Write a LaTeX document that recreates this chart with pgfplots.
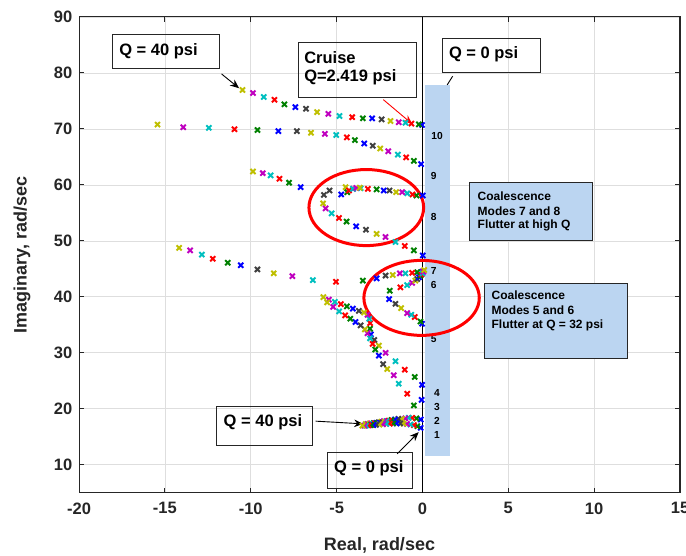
\documentclass[border=0pt]{standalone}
\usepackage{pgfplots}
\pgfplotsset{compat=1.18}
\usepackage{fontspec}
\setmainfont{Liberation Sans}
\usetikzlibrary{arrows.meta}
\definecolor{mb}{rgb}{0,0,1}
\definecolor{mg}{rgb}{0,0.5,0}
\definecolor{mr}{rgb}{1,0,0}
\definecolor{mc}{rgb}{0,0.75,0.75}
\definecolor{mm}{rgb}{0.75,0,0.75}
\definecolor{my}{rgb}{0.75,0.75,0}
\definecolor{mk}{rgb}{0.25,0.25,0.25}
\definecolor{axc}{rgb}{0.15,0.15,0.15}
\definecolor{annblue}{RGB}{187,213,241}
\begin{document}
\begin{tikzpicture}
\begin{axis}[name=ax, scale only axis, width=400.7pt, height=317.3pt,
  xmin=-20, xmax=15, ymin=5, ymax=90,
  xtick={-20,-15,-10,-5,0,5,10,15}, ytick={10,20,30,40,50,60,70,80,90},
  grid=major, major grid style={draw=black!13, line width=0.5pt},
  tick align=inside, major tick length=3.5pt,
  axis line style={draw=axc, line width=0.7pt},
  every tick/.style={draw=axc, line width=0.7pt},
  tick label style={font=\fontsize{11}{13}\selectfont\bfseries, text=axc},
  xticklabel style={yshift=-3pt},
  yticklabel style={xshift=-1pt},
  /pgf/number format/assume math mode=true,
  xlabel={Real, rad/sec}, ylabel={Imaginary, rad/sec},
  label style={font=\fontsize{12}{14}\selectfont\bfseries, text=axc},
  xlabel style={at={(axis description cs:0.5,-0.11)}, anchor=center},
  ylabel style={at={(axis description cs:-0.0948,0.5)}, anchor=center},
  clip=false,
  scatter/classes={
    b={mark=x,color=mb}, g={mark=x,color=mg}, r={mark=x,color=mr},
    c={mark=x,color=mc}, m={mark=x,color=mm}, y={mark=x,color=my},
    k={mark=x,color=mk}}
]
\addplot[black, line width=0.5pt] coordinates {(0,5) (0,90)};
\addplot[scatter, only marks, scatter src=explicit symbolic, mark size=2.4pt, mark options={line width=1.3pt}] coordinates {
% mode 10
(-0.02,70.7)[b] (-0.21,70.8)[g] (-0.64,70.95)[r] (-0.99,71.1)[c] (-1.38,71.2)[m] (-1.86,71.4)[y] (-2.38,71.7)[k] (-2.93,71.9)[b] (-3.47,71.9)[g] (-4.09,72.1)[r] (-4.83,72.3)[c] (-5.48,72.7)[m] (-6.14,73.0)[y] (-6.78,73.6)[k] (-7.40,73.9)[b] (-8.04,74.4)[g] (-8.62,75.2)[r] (-9.24,75.7)[c] (-9.87,76.4)[m] (-10.48,76.96)[y]
% mode 9
(-0.08,63.7)[b] (-0.50,64.3)[g] (-0.95,64.9)[r] (-1.43,65.4)[c] (-1.99,66.0)[m] (-2.46,66.5)[y] (-2.89,67.0)[k] (-3.39,67.4)[b] (-3.93,68.0)[g] (-4.40,68.5)[r] (-5.02,68.9)[c] (-5.68,69.1)[m] (-6.49,69.3)[y] (-7.31,69.6)[k] (-8.39,69.6)[b] (-9.61,69.8)[g] (-10.95,69.94)[r] (-12.44,70.2)[c] (-13.93,70.3)[m] (-15.43,70.77)[y]
% mode 8
(0.02,58.1)[b] (-0.35,58.1)[g] (-0.58,58.3)[r] (-0.89,58.5)[c] (-1.18,58.7)[m] (-1.53,58.7)[y] (-1.92,59.0)[k] (-2.25,59.0)[b] (-2.67,59.2)[g] (-3.18,59.3)[r] (-3.60,59.4)[c] (-4.03,59.3)[m] (-4.48,59.6)[y] (-5.41,59.0)[k] (-4.73,58.3)[b] (-4.38,58.7)[g] (-4.28,59.0)[r] (-4.05,59.3)[c] (-3.85,59.45)[m] (-3.65,59.5)[y]
% mode 7
(0.02,47.4)[b] (-0.50,48.3)[g] (-1.03,49.1)[r] (-1.57,49.8)[c] (-2.15,50.7)[m] (-2.67,51.25)[y] (-3.29,52.0)[k] (-3.86,52.6)[b] (-4.42,53.45)[g] (-4.86,54.1)[r] (-5.29,54.9)[c] (-5.64,55.8)[m] (-5.79,56.7)[y] (-5.74,58.2)[k] (-7.09,59.6)[b] (-7.77,60.4)[g] (-8.33,61.1)[r] (-8.84,61.7)[c] (-9.30,62.1)[m] (-9.87,62.4)[y]
% mode 6
(-0.02,44.5)[b] (-0.31,44.4)[g] (-0.60,44.3)[r] (-0.99,44.2)[c] (-1.32,44.2)[m] (-1.73,43.9)[y] (-2.15,43.8)[k] (-2.67,43.3)[b] (-3.47,42.9)[g] (-5.04,42.7)[r] (-6.38,43.0)[c] (-7.58,43.7)[m] (-8.66,44.2)[y] (-9.61,44.9)[k] (-10.58,45.65)[b] (-11.34,46.1)[g] (-12.21,46.8)[r] (-12.85,47.55)[c] (-13.53,48.3)[m] (-14.17,48.75)[y]
% mode 5
(-0.02,35.2)[b] (-0.12,35.6)[g] (-0.45,36.4)[r] (-0.65,36.8)[c] (-0.89,37.1)[m] (-1.24,38.0)[y] (-1.57,38.75)[k] (-1.94,39.6)[b] (-1.9,41.1)[g] (-1.28,41.7)[r] (-0.89,42.1)[c] (-0.6,42.5)[m] (-0.41,42.9)[y] (-0.3,43.2)[k] (-0.2,43.5)[b] (-0.12,43.8)[g] (-0.05,44.0)[r] (0.0,44.2)[c] (0.05,44.5)[m] (0.1,44.8)[y]
% mode 4
(-0.02,24.3)[b] (-0.45,25.7)[g] (-1.03,27.0)[r] (-1.57,28.5)[c] (-2.15,30.0)[m] (-2.54,31.3)[y] (-2.8,32.3)[k] (-3.0,33.3)[b] (-3.05,34.3)[g] (-3.05,35.3)[r] (-3.1,36.1)[c] (-3.2,36.8)[m] (-3.4,37.2)[y] (-3.7,37.5)[k] (-4.05,37.9)[b] (-4.4,38.3)[g] (-4.75,38.7)[r] (-5.1,39.1)[c] (-5.45,39.5)[m] (-5.77,39.95)[y]
% mode 3
(-0.05,21.6)[b] (-0.5,20.6)[g] (-0.89,22.7)[r] (-1.38,24.5)[c] (-1.67,26.0)[m] (-2.05,27.1)[y] (-2.29,28.0)[k] (-2.54,29.5)[b] (-2.75,30.6)[g] (-2.9,31.6)[r] (-3.05,32.6)[c] (-3.2,33.5)[m] (-3.35,34.2)[y] (-3.6,34.9)[k] (-3.9,35.5)[b] (-4.2,36.1)[g] (-4.5,36.7)[r] (-4.85,37.4)[c] (-5.2,38.2)[m] (-5.55,39.0)[y]
% mode 2
(-0.1,18.1)[b] (-0.35,18.3)[g] (-0.6,18.4)[r] (-0.8,18.4)[c] (-1.0,18.3)[m] (-1.2,18.2)[y] (-1.4,18.2)[k] (-1.6,18.1)[b] (-1.8,18.0)[g] (-1.95,17.9)[r] (-2.1,17.8)[c] (-2.25,17.8)[m] (-2.4,17.7)[y] (-2.55,17.6)[k] (-2.7,17.5)[b] (-2.85,17.45)[g] (-3.0,17.4)[r] (-3.1,17.35)[c] (-3.2,17.3)[m] (-3.3,17.3)[y]
% mode 1
(-0.1,16.6)[b] (-0.3,16.9)[g] (-0.5,17.1)[r] (-0.7,17.2)[c] (-0.9,17.3)[m] (-1.1,17.35)[y] (-1.3,17.4)[k] (-1.5,17.4)[b] (-1.7,17.4)[g] (-1.9,17.35)[r] (-2.1,17.3)[c] (-2.3,17.25)[m] (-2.5,17.2)[y] (-2.7,17.15)[k] (-2.85,17.1)[b] (-3.0,17.1)[g] (-3.15,17.05)[r] (-3.3,17.0)[c] (-3.4,17.0)[m] (-3.5,17.0)[y]
};
% blue band
\fill[annblue] (axis cs:0.12,77.91) rectangle (axis cs:1.63,11.61);
\begin{scope}[font=\fontsize{6.8}{8}\selectfont\bfseries]
\node at (axis cs:0.85,68.7) {10};
\node at (axis cs:0.66,61.55) {9};
\node at (axis cs:0.66,54.29) {8};
\node at (axis cs:0.66,44.7) {7};
\node at (axis cs:0.66,42.14) {6};
\node at (axis cs:0.66,32.38) {5};
\node at (axis cs:0.85,22.8) {4};
\node at (axis cs:0.85,20.3) {3};
\node at (axis cs:0.85,17.9) {2};
\node at (axis cs:0.85,15.36) {1};
\end{scope}
% ellipses
\draw[mr, line width=2pt] (axis cs:-3.27,55.95) ellipse [x radius=3.34, y radius=6.79];
\draw[mr, line width=2pt] (axis cs:-0.05,39.82) ellipse [x radius=3.36, y radius=6.70];
% text boxes
\begin{scope}[font=\fontsize{11}{13}\selectfont\bfseries]
\draw[black!85, line width=0.6pt] (axis cs:-18.04,86.96) rectangle (axis cs:-11.84,80.71);
\node[anchor=west, inner sep=0pt] at (axis cs:-17.67,83.93) {Q = 40 psi};
\draw[black, line width=0.6pt, -{Stealth[length=6pt,width=5pt]}] (axis cs:-11.70,79.82) -- (axis cs:-10.68,77.27);
\draw[black!85, line width=0.6pt] (axis cs:-7.25,85.36) rectangle (axis cs:-0.35,75.54);
\node[anchor=west, inner sep=0pt] at (axis cs:-6.90,82.8) {Cruise};
\node[anchor=west, inner sep=0pt] at (axis cs:-6.90,79.23) {Q=2.419 psi};
\draw[mr, line width=0.6pt, -{Stealth[length=6pt,width=5pt]}] (axis cs:-2.28,75.23) -- (axis cs:-0.60,70.89);
\draw[black!85, line width=0.6pt] (axis cs:1.15,86.2) rectangle (axis cs:6.86,80.0);
\node[anchor=west, inner sep=0pt] at (axis cs:1.53,83.4) {Q = 0 psi};
\draw[black, line width=0.6pt] (axis cs:1.76,79.41) -- (axis cs:1.44,77.86);
\draw[black!85, line width=0.6pt] (axis cs:-11.98,20.48) rectangle (axis cs:-6.38,13.45);
\node[anchor=west, inner sep=0pt] at (axis cs:-11.59,17.62) {Q = 40 psi};
\draw[black, line width=0.6pt, -{Stealth[length=6pt,width=5pt]}] (axis cs:-6.22,17.8) -- (axis cs:-3.45,17.32);
\draw[black!85, line width=0.6pt] (axis cs:-5.54,12.14) rectangle (axis cs:-0.60,5.71);
\node[anchor=west, inner sep=0pt] at (axis cs:-5.16,9.41) {Q = 0 psi};
\draw[black, line width=0.6pt, -{Stealth[length=6pt,width=5pt]}] (axis cs:-1.47,11.96) -- (axis cs:-0.22,15.84);
\end{scope}
\begin{scope}[font=\fontsize{8}{9.5}\selectfont\bfseries]
\draw[black!85, line width=0.6pt, fill=annblue] (axis cs:2.76,60.45) rectangle (axis cs:9.88,50.0);
\node[anchor=west, inner sep=0pt] at (axis cs:3.20,58.04) {Coalescence};
\node[anchor=west, inner sep=0pt] at (axis cs:3.20,55.36) {Modes 7 and 8};
\node[anchor=west, inner sep=0pt] at (axis cs:3.20,52.68) {Flutter at high Q};
\draw[black!85, line width=0.6pt, fill=annblue] (axis cs:3.62,42.32) rectangle (axis cs:11.96,28.93);
\node[anchor=west, inner sep=0pt] at (axis cs:4.01,40.23) {Coalescence};
\node[anchor=west, inner sep=0pt] at (axis cs:4.01,37.55) {Modes 5 and 6};
\node[anchor=west, inner sep=0pt] at (axis cs:4.01,34.88) {Flutter at Q = 32 psi};
\end{scope}
\end{axis}
\pgfresetboundingbox
\path[use as bounding box] ([shift={(-52.7pt,-42pt)}]ax.south west) rectangle ([shift={(4pt,11.3pt)}]ax.north east);
\end{tikzpicture}
\end{document}
